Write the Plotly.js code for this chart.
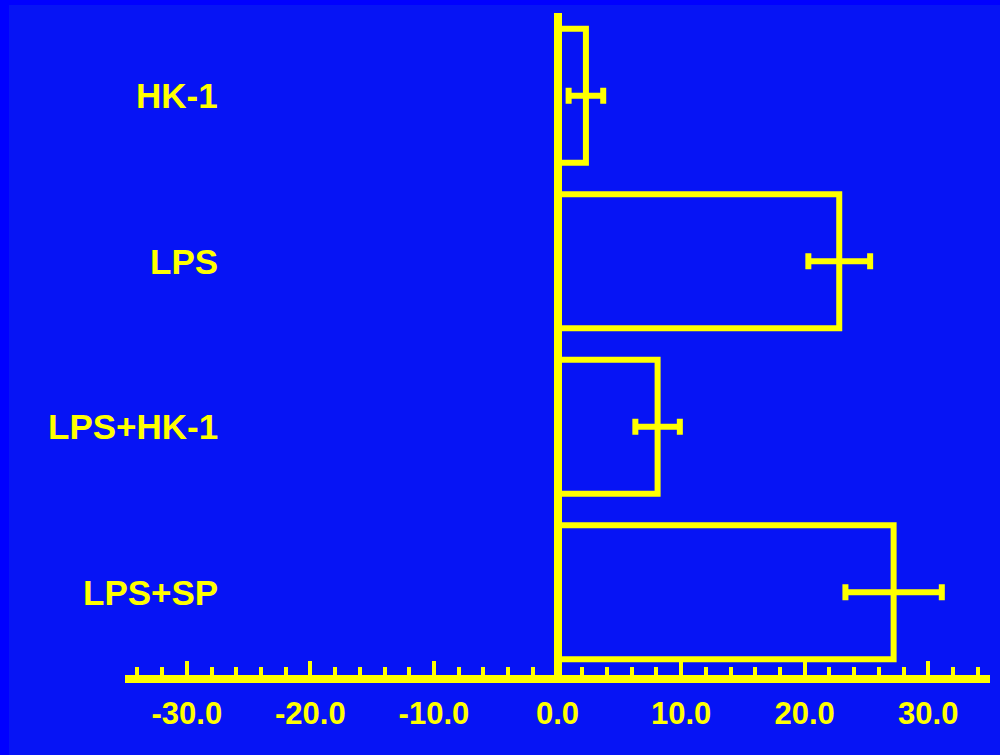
<!DOCTYPE html>
<html>
<head>
<meta charset="utf-8">
<script src="https://cdn.plot.ly/plotly-3.0.1.min.js"></script>
<style>
  html, body { margin: 0; padding: 0; background: #0000ff; width: 1000px; height: 755px; overflow: hidden; }
  #chart { position: absolute; left: 9px; top: 5px; width: 991px; height: 750px; }
</style>
</head>
<body>
<div id="chart"></div>
<script>
// Data
const categories = ["HK-1", "LPS", "LPS+HK-1", "LPS+SP"];
const values = [2.3, 22.8, 8.1, 27.2];
const errors = [1.4, 2.5, 1.8, 3.9];
const tickValues = [-30, -20, -10, 0, 10, 20, 30];
const tickLabels = ["-30.0", "-20.0", "-10.0", "0.0", "10.0", "20.0", "30.0"];

const YEL = "#ffff00";
const BG = "#0614f5";
const FONT = "'Liberation Sans', Arial, sans-serif";

const trace = {
  type: "bar",
  orientation: "h",
  y: categories,
  x: values,
  width: 0.81,
  marker: { color: "rgba(0,0,0,0)", line: { color: YEL, width: 6 } },
  error_x: { type: "data", array: errors, visible: true, color: YEL, thickness: 6, width: 8 },
  hoverinfo: "skip"
};

const annotations = categories.map(c => ({
  xref: "paper", yref: "y", x: 0.1098, y: c, text: c, showarrow: false,
  xanchor: "right", yanchor: "middle",
  font: { family: FONT, size: 35, color: YEL, weight: "bold" }
}));

const layout = {
  width: 991, height: 750,
  paper_bgcolor: BG, plot_bgcolor: BG,
  margin: { l: 116, r: 10, t: 8, b: 80, pad: 0 },
  showlegend: false,
  xaxis: {
    range: [-35, 35],
    tickvals: tickValues, ticktext: tickLabels,
    ticks: "inside", ticklen: 14, tickwidth: 4, tickcolor: YEL,
    minor: { dtick: 2, tick0: 0, ticks: "inside", ticklen: 8, tickwidth: 4, tickcolor: YEL, showgrid: false },
    showgrid: false,
    showline: true, linecolor: YEL, linewidth: 8,
    zeroline: true, zerolinecolor: YEL, zerolinewidth: 8,
    tickfont: { family: FONT, size: 31, color: YEL, weight: "bold" },
    ticklabelstandoff: 4,
    fixedrange: true
  },
  yaxis: {
    type: "category", categoryorder: "array", categoryarray: categories,
    range: [3.5, -0.5],
    showticklabels: false, ticks: "", showgrid: false, showline: false, zeroline: false,
    fixedrange: true
  },
  annotations: annotations
};

Plotly.newPlot("chart", [trace], layout, { displayModeBar: false, staticPlot: true });
</script>
</body>
</html>
